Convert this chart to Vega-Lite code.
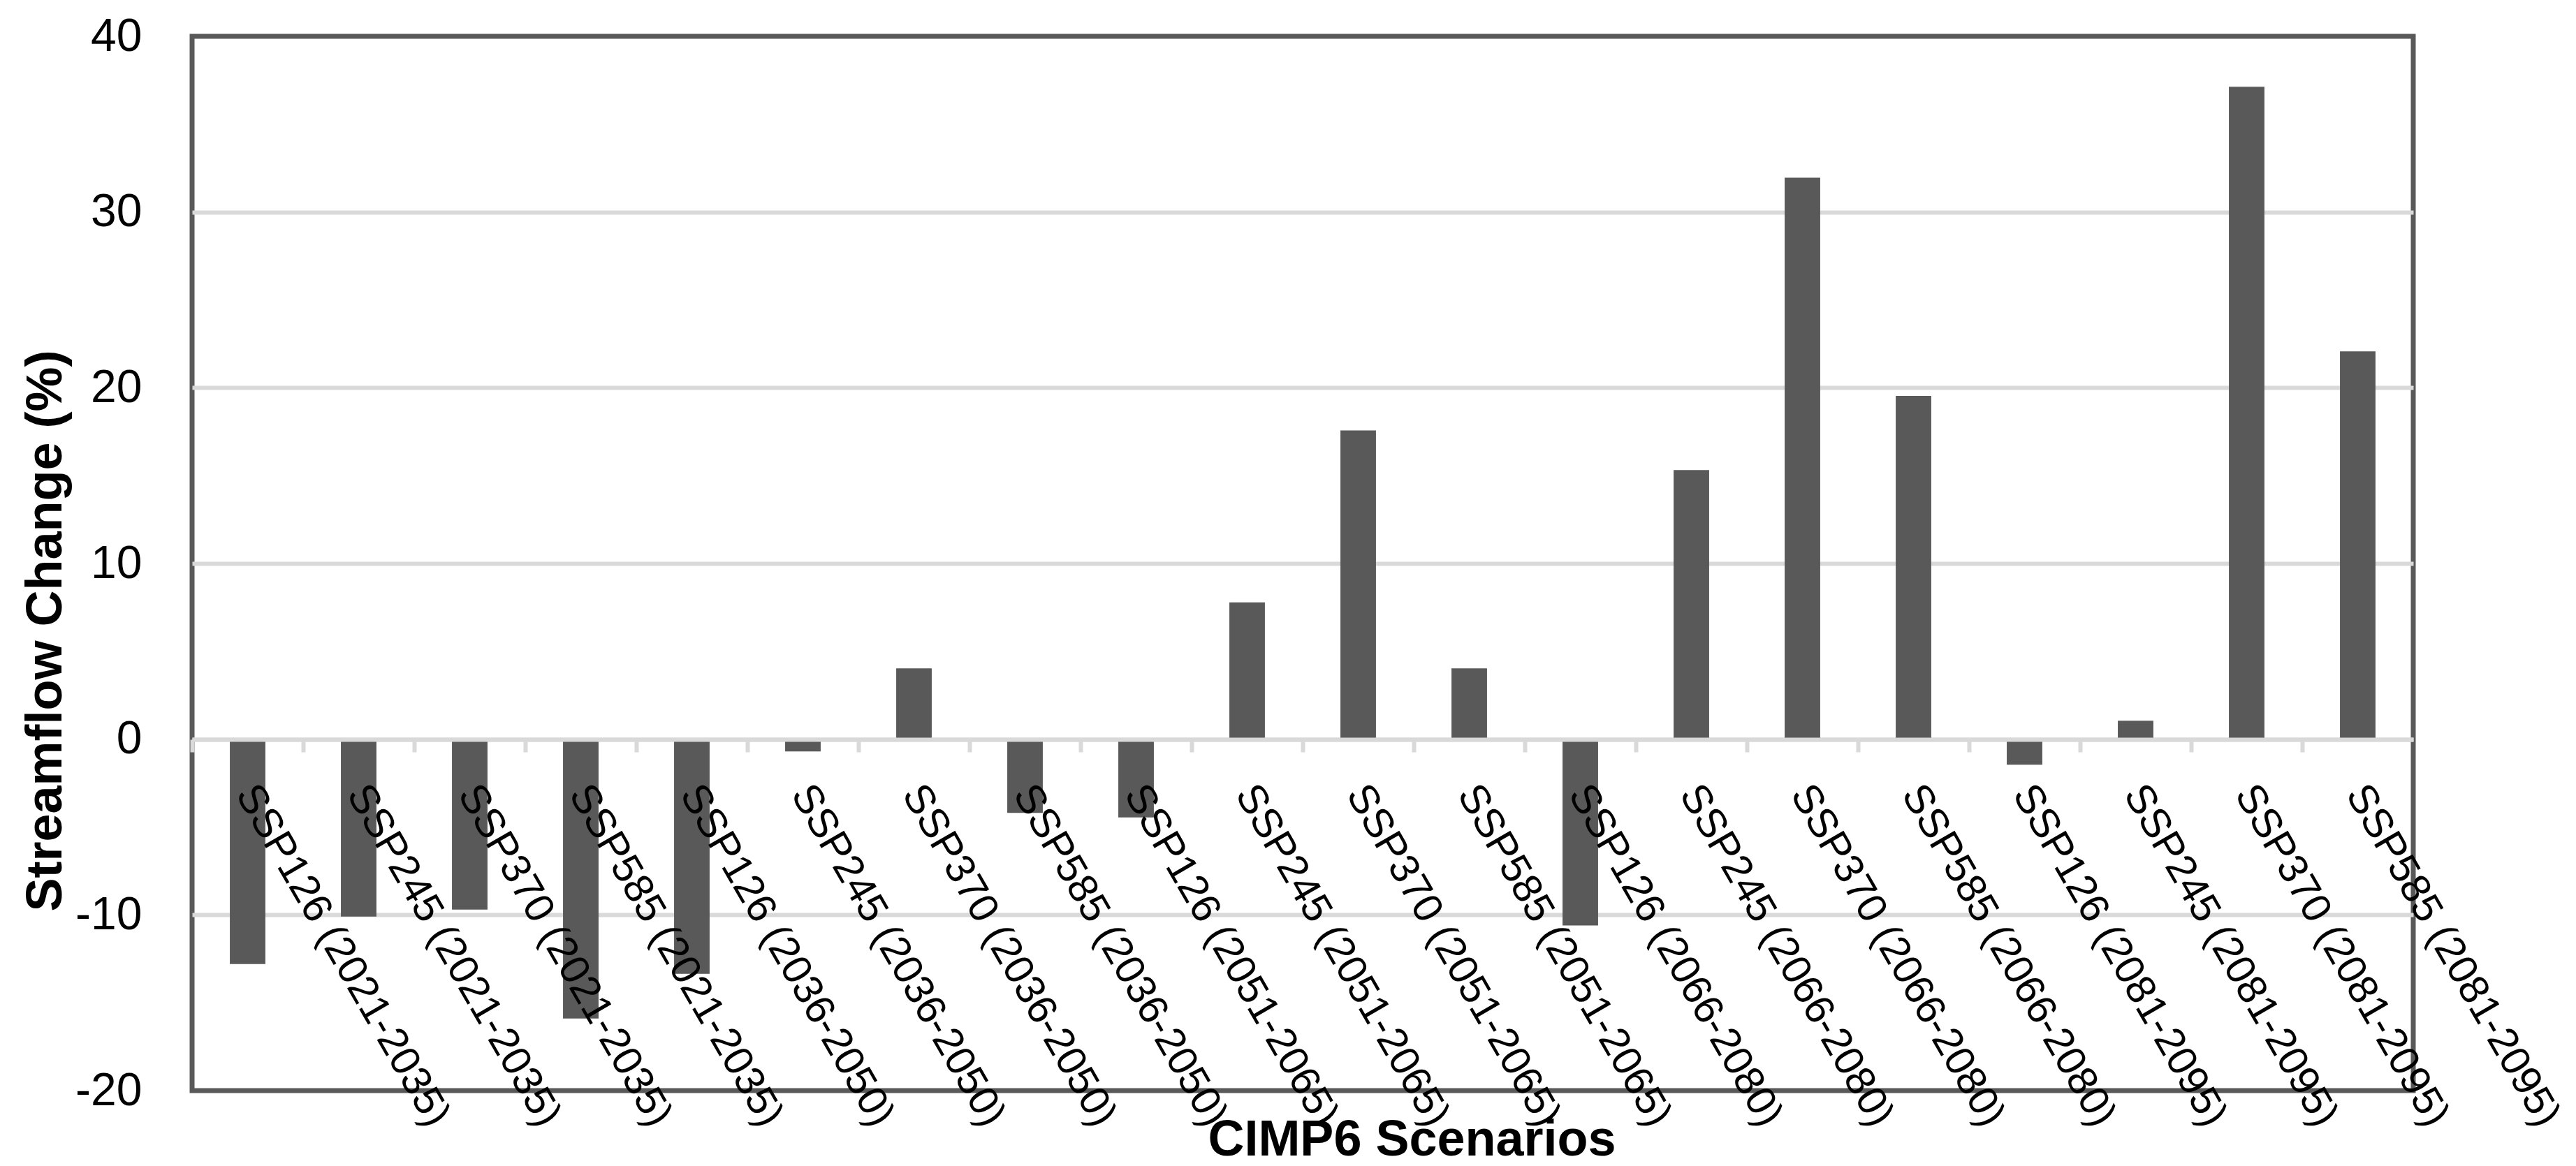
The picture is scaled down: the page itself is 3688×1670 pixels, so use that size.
{
  "$schema": "https://vega.github.io/schema/vega-lite/v6.json",
  "autosize": {"type": "none"},
  "width": 3180,
  "height": 1510,
  "padding": {"left": 275, "top": 52, "right": 233, "bottom": 108},
  "background": "white",
  "config": {
    "view": {"stroke": "#595959", "strokeWidth": 7},
    "font": "Liberation Sans"
  },
  "data": {
    "values": [
      {"scenario": "SSP126 (2021-2035)", "change": -12.8},
      {"scenario": "SSP245 (2021-2035)", "change": -10.1},
      {"scenario": "SSP370 (2021-2035)", "change": -9.7},
      {"scenario": "SSP585 (2021-2035)", "change": -15.9},
      {"scenario": "SSP126 (2036-2050)", "change": -13.35},
      {"scenario": "SSP245 (2036-2050)", "change": -0.7},
      {"scenario": "SSP370 (2036-2050)", "change": 4.03},
      {"scenario": "SSP585 (2036-2050)", "change": -4.2},
      {"scenario": "SSP126 (2051-2065)", "change": -4.45},
      {"scenario": "SSP245 (2051-2065)", "change": 7.78},
      {"scenario": "SSP370 (2051-2065)", "change": 17.57},
      {"scenario": "SSP585 (2051-2065)", "change": 4.03},
      {"scenario": "SSP126 (2066-2080)", "change": -10.6},
      {"scenario": "SSP245 (2066-2080)", "change": 15.31},
      {"scenario": "SSP370 (2066-2080)", "change": 31.95},
      {"scenario": "SSP585 (2066-2080)", "change": 19.54},
      {"scenario": "SSP126 (2081-2095)", "change": -1.45},
      {"scenario": "SSP245 (2081-2095)", "change": 1.05},
      {"scenario": "SSP370 (2081-2095)", "change": 37.13},
      {"scenario": "SSP585 (2081-2095)", "change": 22.07}
    ]
  },
  "mark": {"type": "bar", "color": "#595959", "width": {"band": 0.32}},
  "encoding": {
    "x": {
      "field": "scenario",
      "type": "nominal",
      "sort": null,
      "scale": {"paddingInner": 0, "paddingOuter": 0},
      "axis": {
        "orient": "bottom",
        "offset": -503,
        "zindex": 1,
        "domainColor": "#d9d9d9",
        "domainWidth": 6,
        "tickColor": "#d9d9d9",
        "tickWidth": 6,
        "tickSize": 18,
        "bandPosition": 0,
        "labelAngle": 60,
        "labelAlign": "left",
        "labelBaseline": "alphabetic",
        "labelOffset": -18,
        "labelPadding": 60,
        "labelFontSize": 59,
        "labelColor": "black",
        "labelOverlap": false,
        "labelBound": false,
        "labelLimit": 0,
        "labelFlush": false,
        "grid": false,
        "title": "CIMP6 Scenarios",
        "titleFontSize": 72,
        "titleFontWeight": "bold",
        "titleColor": "black",
        "titleX": 1746,
        "titleY": 595,
        "titleAlign": "center",
        "titleBaseline": "alphabetic"
      }
    },
    "y": {
      "field": "change",
      "type": "quantitative",
      "scale": {"domain": [-20, 40], "nice": false, "zero": false},
      "axis": {
        "values": [-20, -10, 0, 10, 20, 30, 40],
        "labelExpr": "toString(datum.value)",
        "domain": false,
        "ticks": false,
        "tickSize": 0,
        "labelPadding": 72,
        "labelFontSize": 66,
        "labelColor": "black",
        "labelFlush": false,
        "grid": true,
        "gridColor": {"condition": {"test": "datum.value == 40 || datum.value == -20", "value": "transparent"}, "value": "#d9d9d9"},
        "gridWidth": 6,
        "title": "Streamflow Change (%)",
        "titleFontSize": 72,
        "titleFontWeight": "bold",
        "titleColor": "black",
        "titleX": -188,
        "titleY": 851,
        "titleAngle": -90,
        "titleAlign": "center",
        "titleBaseline": "alphabetic"
      }
    }
  }
}
